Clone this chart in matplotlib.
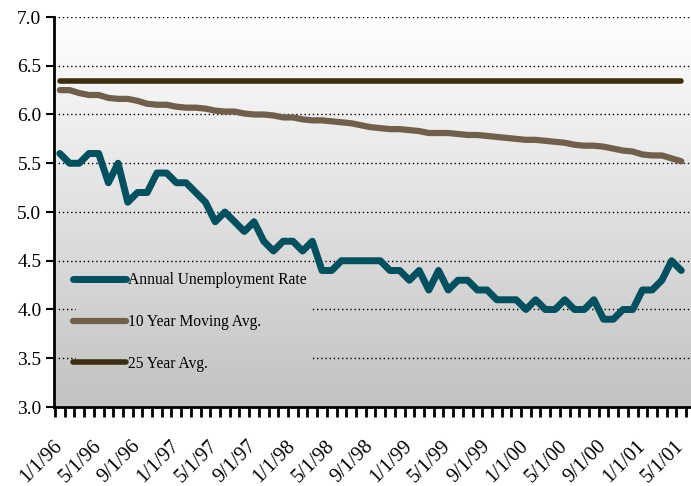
import numpy as np
import matplotlib
matplotlib.use("Agg")
import matplotlib.pyplot as plt
from matplotlib.colors import LinearSegmentedColormap
from matplotlib.patches import Rectangle

plt.rcParams["font.family"] = ["Liberation Serif", "DejaVu Serif"]

# monthly values, 1/1/96 .. 5/1/01
tick_labels = ["1/1/96", "5/1/96", "9/1/96", "1/1/97", "5/1/97", "9/1/97",
               "1/1/98", "5/1/98", "9/1/98", "1/1/99", "5/1/99", "9/1/99",
               "1/1/00", "5/1/00", "9/1/00", "1/1/01", "5/1/01"]

unemployment = [5.6, 5.5, 5.5, 5.6, 5.6, 5.3, 5.5, 5.1, 5.2, 5.2, 5.4, 5.4,
                5.3, 5.3, 5.2, 5.1, 4.9, 5.0, 4.9, 4.8, 4.9, 4.7, 4.6, 4.7,
                4.7, 4.6, 4.7, 4.4, 4.4, 4.5, 4.5, 4.5, 4.5, 4.5, 4.4, 4.4,
                4.3, 4.4, 4.2, 4.4, 4.2, 4.3, 4.3, 4.2, 4.2, 4.1, 4.1, 4.1,
                4.0, 4.1, 4.0, 4.0, 4.1, 4.0, 4.0, 4.1, 3.9, 3.9, 4.0, 4.0,
                4.2, 4.2, 4.3, 4.5, 4.4]

moving_avg_10yr = [6.25, 6.25, 6.22, 6.20, 6.20, 6.17, 6.16, 6.16, 6.14, 6.11, 6.10, 6.10,
                   6.08, 6.07, 6.07, 6.06, 6.04, 6.03, 6.03, 6.01, 6.00, 6.00, 5.99, 5.97,
                   5.97, 5.95, 5.94, 5.94, 5.93, 5.92, 5.91, 5.89, 5.87, 5.86, 5.85, 5.85,
                   5.84, 5.83, 5.81, 5.81, 5.81, 5.80, 5.79, 5.79, 5.78, 5.77, 5.76, 5.75,
                   5.74, 5.74, 5.73, 5.72, 5.71, 5.69, 5.68, 5.68, 5.67, 5.65, 5.63, 5.62,
                   5.59, 5.58, 5.58, 5.55, 5.52]

avg_25yr = 6.34

months = np.arange(len(unemployment))

fig = plt.figure(figsize=(6.91, 4.86), dpi=100)
ax = fig.add_axes([54 / 691, 1 - 407 / 486, 637 / 691, 390 / 486])

# grey gradient background
bg_cmap = LinearSegmentedColormap.from_list("bg", ["#c2c2c2", "#ffffff"])
grad = np.linspace(0, 1, 256).reshape(-1, 1)
ax.imshow(grad, cmap=bg_cmap, extent=[0, 1, 0, 1], transform=ax.transAxes,
          aspect="auto", origin="lower", zorder=0)

for yv in np.arange(3.5, 7.01, 0.5):
    ax.axhline(yv, color="black", lw=1.0, ls=(0, (1, 2)), zorder=1)

ax.plot(months, unemployment, color="#00505F", lw=5, solid_capstyle="round",
        solid_joinstyle="round", zorder=4, label="Annual Unemployment Rate")
ax.plot(months, moving_avg_10yr, color="#705F4B", lw=4.5, solid_capstyle="round",
        solid_joinstyle="round", zorder=3, label="10 Year Moving Avg.")
ax.plot(months, [avg_25yr] * len(months), color="#3B2F10", lw=4, solid_capstyle="round",
        zorder=3, label="25 Year Avg.")

ax.set_xlim(-0.6, 65.0)
ax.set_ylim(3.0, 7.0)

ax.set_yticks(np.arange(3.0, 7.01, 0.5))
ax.set_yticklabels([f"{v:.1f}" for v in np.arange(3.0, 7.01, 0.5)])
ax.tick_params(axis="y", direction="out", length=6, width=1.5, labelsize=14, pad=3)

ax.set_xticks(months[::4])
ax.set_xticklabels(tick_labels, rotation=45, ha="right", va="center",
                   rotation_mode="anchor")
ax.set_xticks(np.arange(len(months) + 1) - 0.5, minor=True)
ax.tick_params(axis="x", which="major", length=0, labelsize=14.5, pad=26)
ax.tick_params(axis="x", which="minor", direction="out", length=7, width=2)

for side in ["top", "right"]:
    ax.spines[side].set_visible(False)
ax.spines["left"].set_linewidth(2)
ax.spines["bottom"].set_linewidth(2)

leg = ax.legend(loc="upper left", bbox_to_anchor=(0.01, 0.377), frameon=False,
                fontsize=11.2, handlelength=3.4, handletextpad=0.15,
                labelspacing=1.65, borderpad=0.3)
for h in leg.get_lines():
    h.set_solid_capstyle("round")

# gradient patch behind legend hides the grid lines there
fig.canvas.draw()
bb = leg.get_window_extent()
bb = bb.from_extents(bb.x0 + 8, bb.y0, bb.x1, bb.y1).transformed(ax.transAxes.inverted())
clip = Rectangle((bb.x0, bb.y0), bb.width, bb.height, transform=ax.transAxes)
cover = ax.imshow(grad, cmap=bg_cmap, extent=[0, 1, 0, 1], transform=ax.transAxes,
                  aspect="auto", origin="lower", zorder=2)
cover.set_clip_path(clip)

fig.savefig("out.png", dpi=100)
